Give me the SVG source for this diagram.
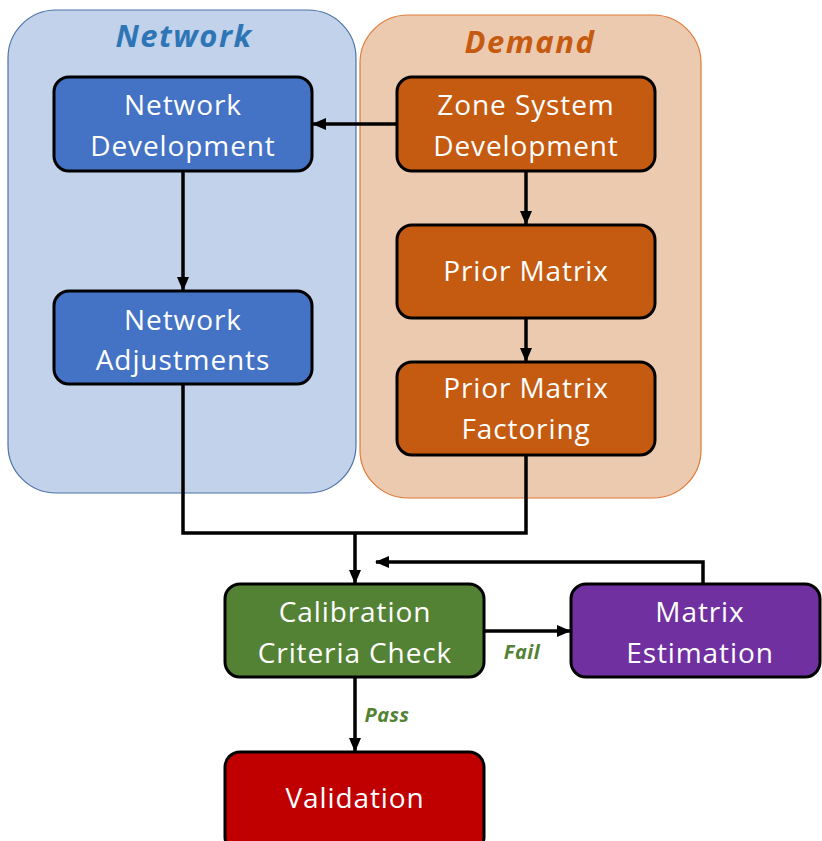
<svg xmlns="http://www.w3.org/2000/svg" width="822" height="841" viewBox="0 0 822 841">
<style>
.node{stroke:#000;stroke-width:3}
.t{font-family:"Open Sans","Liberation Sans",sans-serif;font-size:28px;letter-spacing:0.9px;fill:#fff;text-anchor:middle}
.title{font-family:"Open Sans","Liberation Sans",sans-serif;font-size:31px;letter-spacing:1.5px;font-weight:bold;font-style:italic;text-anchor:middle}
.lbl{font-family:"Open Sans","Liberation Sans",sans-serif;font-size:20px;letter-spacing:0.5px;font-weight:bold;font-style:italic;fill:#548235;text-anchor:middle}
.c{fill:none;stroke:#000;stroke-width:3.5}
</style>
<defs>
<marker id="ah" markerWidth="14" markerHeight="12" refX="13" refY="6" orient="auto" markerUnits="userSpaceOnUse">
<path d="M0,0 L14,6 L0,12 Z" fill="#000"/>
</marker>
</defs>
<rect width="822" height="841" fill="#fff"/>
<g id="group-network">
<rect x="8" y="10" width="348" height="483" rx="48" fill="#c1d2ea" stroke="#4f73a8" stroke-width="1.2"/>
<text class="title" x="184" y="47" fill="#2e75b6">Network</text>
</g>
<g id="group-demand">
<rect x="360" y="15" width="341" height="483" rx="48" fill="#eccab0" stroke="#e07b39" stroke-width="1.2"/>
<text class="title" x="530" y="53" fill="#c55a11">Demand</text>
</g>
<g id="connectors">
<line class="c" x1="397" y1="124" x2="313" y2="124" marker-end="url(#ah)"/>
<line class="c" x1="183" y1="171" x2="183" y2="290" marker-end="url(#ah)"/>
<line class="c" x1="526" y1="171" x2="526" y2="224" marker-end="url(#ah)"/>
<line class="c" x1="526" y1="318" x2="526" y2="361" marker-end="url(#ah)"/>
<polyline class="c" points="183,384 183,533 526,533 526,455"/>
<line class="c" x1="355" y1="532" x2="355" y2="583" marker-end="url(#ah)"/>
<polyline class="c" points="703,584 703,562 376,562" marker-end="url(#ah)"/>
<line class="c" x1="484" y1="631" x2="570" y2="631" marker-end="url(#ah)"/>
<line class="c" x1="355" y1="677" x2="355" y2="751" marker-end="url(#ah)"/>
<text class="lbl" x="522" y="659">Fail</text>
<text class="lbl" x="387" y="722">Pass</text>
</g>
<g id="network-development">
<rect class="node" x="54" y="77" width="258" height="94" rx="15" fill="#4472c4"/>
<text class="t" x="183" y="115">Network</text>
<text class="t" x="183" y="156">Development</text>
</g>
<g id="network-adjustments">
<rect class="node" x="54" y="291" width="258" height="93" rx="15" fill="#4472c4"/>
<text class="t" x="183" y="330">Network</text>
<text class="t" x="183" y="370">Adjustments</text>
</g>
<g id="zone-system-development">
<rect class="node" x="397" y="77" width="258" height="94" rx="15" fill="#c55a11"/>
<text class="t" x="526" y="115">Zone System</text>
<text class="t" x="526" y="156">Development</text>
</g>
<g id="prior-matrix">
<rect class="node" x="397" y="225" width="258" height="93" rx="15" fill="#c55a11"/>
<text class="t" x="526" y="281">Prior Matrix</text>
</g>
<g id="prior-matrix-factoring">
<rect class="node" x="397" y="362" width="258" height="93" rx="15" fill="#c55a11"/>
<text class="t" x="526" y="398">Prior Matrix</text>
<text class="t" x="526" y="439">Factoring</text>
</g>
<g id="calibration-criteria-check">
<rect class="node" x="225" y="584" width="259" height="93" rx="15" fill="#548235"/>
<text class="t" x="355" y="622">Calibration</text>
<text class="t" x="355" y="663">Criteria Check</text>
</g>
<g id="matrix-estimation">
<rect class="node" x="571" y="584" width="249" height="93" rx="15" fill="#7030a0"/>
<text class="t" x="700" y="622">Matrix</text>
<text class="t" x="700" y="663">Estimation</text>
</g>
<g id="validation">
<rect class="node" x="225" y="752" width="259" height="100" rx="15" fill="#c00000"/>
<text class="t" x="355" y="808">Validation</text>
</g>
</svg>
